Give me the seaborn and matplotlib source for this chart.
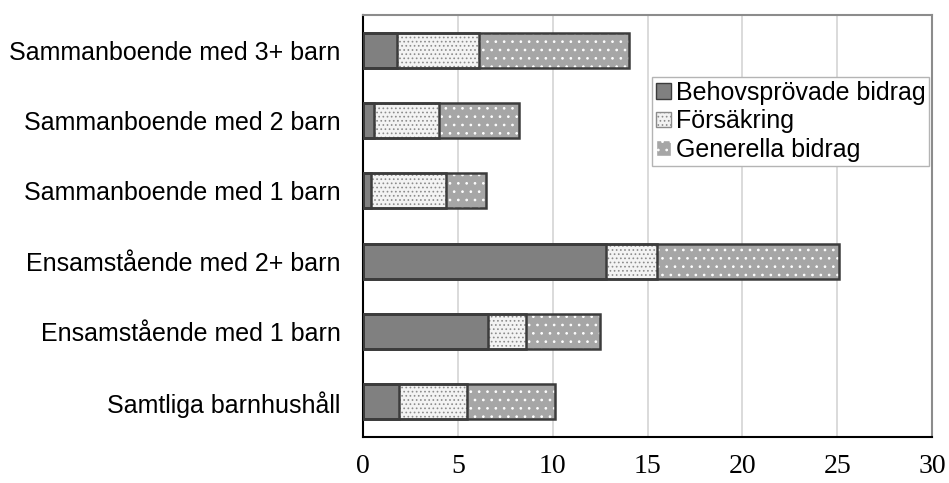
import matplotlib
matplotlib.use("Agg")
import matplotlib.pyplot as plt
import seaborn as sns
import pandas as pd
from matplotlib.patches import Patch

# värden avlästa från referensbilden (procent)
kategorier = [
    "Sammanboende med 3+ barn",
    "Sammanboende med 2 barn",
    "Sammanboende med 1 barn",
    "Ensamstående med 2+ barn",
    "Ensamstående med 1 barn",
    "Samtliga barnhushåll",
]
behovsprovade = [1.8, 0.6, 0.4, 12.8, 6.6, 1.9]
forsakring = [4.3, 3.4, 4.0, 2.7, 2.0, 3.6]
generella = [7.9, 4.2, 2.1, 9.6, 3.9, 4.6]
serienamn = ["Behovsprövade bidrag", "Försäkring", "Generella bidrag"]
x_ticks = [0, 5, 10, 15, 20, 25, 30]

df = pd.DataFrame({
    "kategori": kategorier,
    "behov": behovsprovade,
    "fors": forsakring,
    "gen": generella,
})
df["c1"] = df["behov"]
df["c2"] = df["behov"] + df["fors"]
df["c3"] = df["c2"] + df["gen"]

sns.set_style("white")
plt.rcParams["font.family"] = ["Liberation Sans", "DejaVu Sans"]
plt.rcParams["hatch.linewidth"] = 0.7
for key in ["text.color", "xtick.color", "ytick.color", "axes.labelcolor"]:
    plt.rcParams[key] = "black"

fig = plt.figure(figsize=(9.49, 4.83), dpi=100)
ax = fig.add_axes([0.3825, 0.0952, 0.5996, 0.8737])

C_BEHOV = "#808080"
C_FORS = "#f3f3f3"
C_GEN = "#a6a6a6"
C_EDGE = "#3c3c3c"

# fyllda lager (summa först, sedan delsummor ovanpå)
sns.barplot(data=df, x="c3", y="kategori", orient="h", color=C_GEN, saturation=1,
            width=0.5, edgecolor="white", linewidth=0, hatch="..", ax=ax, zorder=3)
sns.barplot(data=df, x="c2", y="kategori", orient="h", color=C_FORS, saturation=1,
            width=0.5, edgecolor="#8c8c8c", linewidth=0, hatch="....", ax=ax, zorder=3)
sns.barplot(data=df, x="c1", y="kategori", orient="h", color=C_BEHOV, saturation=1,
            width=0.5, linewidth=0, ax=ax, zorder=3)

# konturer
for col in ["c3", "c2", "c1"]:
    sns.barplot(data=df, x=col, y="kategori", orient="h", color=C_EDGE, fill=False,
                width=0.5, linewidth=1.8, ax=ax, zorder=4)

ax.set_xlim(0, 30)
ax.set_ylim(5.5, -0.5)
ax.set_xticks(x_ticks)
ax.set_xticklabels([str(t) for t in x_ticks], family="Liberation Serif", fontsize=20)
ax.set_xlabel("")
ax.set_ylabel("")

ax.set_yticks(range(len(kategorier)))
ax.set_yticklabels(kategorier, fontsize=18)
ax.set_yticks([i - 0.5 for i in range(len(kategorier) + 1)], minor=True)
ax.tick_params(axis="y", which="major", length=0, pad=16)
ax.tick_params(axis="y", which="minor", length=6, width=1, color="black", direction="out")
ax.tick_params(axis="x", length=6, width=1, color="black", direction="out", pad=6)

ax.xaxis.grid(True, color="#d4d4d4", linewidth=1.2, zorder=0)
ax.yaxis.grid(False)
ax.set_axisbelow(True)

for side in ["left", "bottom"]:
    ax.spines[side].set_color("black")
    ax.spines[side].set_linewidth(1.5)
for side in ["top", "right"]:
    ax.spines[side].set_color("#8c8c8c")
    ax.spines[side].set_linewidth(1.5)
    ax.spines[side].set_visible(True)

handles = [
    Patch(facecolor=C_BEHOV, edgecolor=C_EDGE),
    Patch(facecolor=C_FORS, edgecolor="#8c8c8c", hatch="...."),
    Patch(facecolor=C_GEN, edgecolor="white", hatch=".."),
]
leg = ax.legend(handles, serienamn, loc="upper right", bbox_to_anchor=(0.995, 0.853),
                borderaxespad=0, fontsize=18, handlelength=0.6, handleheight=0.6,
                handletextpad=0.2, labelspacing=0.18, borderpad=0.15,
                fancybox=False, framealpha=1, edgecolor="#b4b4b4")
leg.get_frame().set_linewidth(1)

fig.savefig("out.png", dpi=100)
